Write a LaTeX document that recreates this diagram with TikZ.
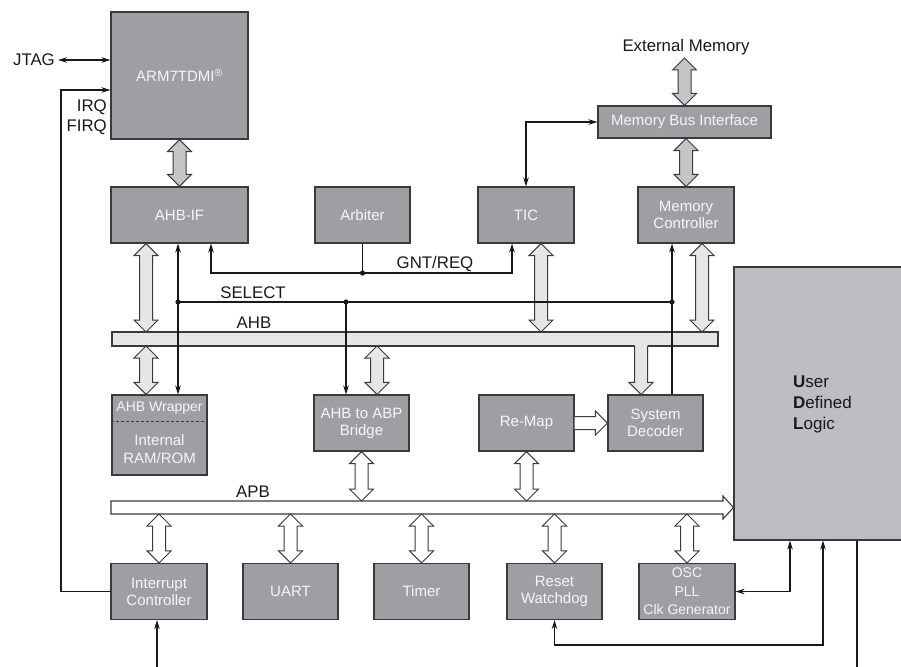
\documentclass[tikz,border=0pt]{standalone}
\usepackage{fontspec}
\setmainfont{Liberation Sans}
\usetikzlibrary{arrows.meta,calc}
\definecolor{boxfill}{HTML}{9E9FA3}
\definecolor{udlfill}{HTML}{BDBEC1}
\definecolor{midfill}{HTML}{C4C5C7}
\definecolor{lightfill}{HTML}{E5E6E8}
\definecolor{edge}{HTML}{3A3A3A}
\definecolor{boxtext}{HTML}{F6F6F6}

% vertical double-headed block arrow: style, x-reference, top point, bottom point
\newcommand\thickdbl[4]{%
  \filldraw[#1] (#2 |- #3) -- ++(12,12) -- ++(-5.5,0) -- ($(#2 |- #4)+(6.5,-12)$) -- ++(5.5,0)
    -- (#2 |- #4) -- ++(-12,-12) -- ++(5.5,0) -- ($(#2 |- #3)+(-6.5,12)$) -- ++(-5.5,0) -- cycle;}

\tikzset{
  blk/.style={draw=edge, line width=1.1pt, fill=boxfill, text=boxtext,
    font=\fontsize{15}{17}\selectfont, align=center, inner sep=0pt,
    minimum width=95, minimum height=56},
  wtxt/.style={text=boxtext, align=center, inner sep=0pt, font=\fontsize{14.5}{18}\selectfont},
  lbl/.style={font=\fontsize{16.8}{20}\selectfont, text=black!90, inner sep=0pt},
  sig/.style={line width=1.25pt, draw=black!90},
  midarr/.style={fill=midfill, draw=edge, line width=1pt, line join=miter},
  lightarr/.style={fill=lightfill, draw=edge, line width=1pt, line join=miter},
  whitearr/.style={fill=white, draw=edge, line width=1pt, line join=miter},
  dotm/.style={fill=black!90},
}

\begin{document}
\begin{tikzpicture}[x=1pt, y=-1pt, >={Stealth[length=9pt,width=5.5pt]}]
\useasboundingbox (0,0) rectangle (901,666);

% ---------- boxes ----------
\node[blk, minimum width=137, minimum height=127] (arm) at (179.5,75.5) {ARM7TDMI\textsuperscript{®}};
\node[blk, minimum width=137] (ahbif) at (179.5,215) {AHB-IF};
\node[blk] (arbiter) at (362.5,215) {Arbiter};
\node[blk, minimum width=96] (tic) at (526,215) {TIC};
\node[blk, minimum width=96] (mc) at (686,215) {Memory\\Controller};
\node[blk, minimum width=173, minimum height=32] (mbi) at (684.5,122) {Memory Bus Interface};

\node[blk, minimum height=80] (wrap) at (159.5,435) {};
\node[wtxt, font=\fontsize{14}{18}\selectfont] (wraptop) at (159.5,408.5) {AHB Wrapper};
\node[wtxt, font=\fontsize{15}{18}\selectfont] (wrapbot) at (159.5,449) {Internal\\RAM/ROM};
\draw[draw=edge, line width=0.9pt, dash pattern=on 3pt off 2pt]
  ($(wrap.north west)+(0,27)$) -- ($(wrap.north east)+(0,27)$);

\node[blk] (bridge) at (361.5,423) {AHB to ABP\\Bridge};
\node[blk] (remap) at (526.5,423) {Re-Map};
\node[blk] (sysdec) at (655.5,423) {System\\Decoder};

\node[draw=edge, line width=1.1pt, fill=udlfill, minimum width=180, minimum height=273, inner sep=0pt] (udl) at (824,403.5) {};
\node[anchor=west, align=left, inner sep=0pt, text=black!90, font=\fontsize{17}{21}\selectfont] (udltxt) at (793,404)
  {\textbf{U}ser\\\textbf{D}efined\\\textbf{L}ogic};

\node[blk, minimum width=96] (intc) at (159,591.5) {Interrupt\\Controller};
\node[blk] (uart) at (290.5,591.5) {UART};
\node[blk] (timer) at (421.5,591.5) {Timer};
\node[blk] (reset) at (554.5,591.5) {Reset\\Watchdog};
\node[blk, minimum width=96, font=\fontsize{14}{18.5}\selectfont] (osc) at (687,591.5) {OSC\\PLL\\Clk Generator};

% ---------- labels ----------
\node[lbl, anchor=east] (jtag) at (55,60) {JTAG};
\node[lbl] (extmem) at (686,47) {External Memory};
\node[lbl, anchor=east] (irq) at (107,107) {IRQ};
\node[lbl, anchor=east] (firq) at (107,127) {FIRQ};
\node[lbl] (gntlbl) at (435,264) {GNT/REQ};
\node[lbl] (sellbl) at (253,293) {SELECT};
\node[lbl] (ahblbl) at (254,323) {AHB};
\node[lbl] (apblbl) at (253,492) {APB};

% ---------- helper coordinates ----------
\coordinate (emtop) at (685,58);
\coordinate (xa) at (146,0);
\coordinate (xs1) at (178,0);
\coordinate (xg1) at (211,0);
\coordinate (xs2) at (346,0);
\coordinate (xbr) at (377,0);
\coordinate (xg2) at (512,0);
\coordinate (xtic) at (541,0);
\coordinate (xsd) at (641,0);
\coordinate (xmcl) at (672,0);
\coordinate (xmc) at (702,0);
\coordinate (xirq) at (61,0);
\coordinate (yirq) at (0,90);
\coordinate (ygnt) at (0,273);
\coordinate (ysel) at (0,302);
\coordinate (xosc) at (790,0);
\coordinate (xrst) at (823,0);
\coordinate (yrst) at (0,645);
\coordinate (xout) at (857,0);
\coordinate (ybot) at (0,667);

% ---------- buses ----------
\node[draw=edge, line width=1.1pt, fill=lightfill, minimum width=606, minimum height=14, inner sep=0pt, outer sep=0pt] (ahb) at (415,339) {};
\node[minimum width=612, minimum height=13, inner sep=0pt, outer sep=0pt] (apb) at (417,507.5) {};
\filldraw[whitearr, line width=1.1pt] (apb.north west) -- (apb.north east) -- ++(0,-5) -- (udl.west |- apb)
  -- ($(apb.south east)+(0,5)$) -- (apb.south east) -- (apb.south west) -- cycle;

% ---------- block arrows ----------
\thickdbl{midarr}{arm}{arm.south}{ahbif.north}
\thickdbl{midarr}{mbi}{emtop}{mbi.north}
\thickdbl{midarr}{mc}{mbi.south}{mc.north}

\thickdbl{lightarr}{xa}{ahbif.south}{ahb.north}
\thickdbl{lightarr}{xtic}{tic.south}{ahb.north}
\thickdbl{lightarr}{xmc}{mc.south}{ahb.north}
\thickdbl{lightarr}{xa}{ahb.south}{wrap.north}
\thickdbl{lightarr}{xbr}{ahb.south}{bridge.north}

% single arrow from AHB bus into System Decoder
\fill[lightfill] ($(xsd |- ahb.south)+(-6.5,-1.2)$) -- ($(xsd |- ahb.south)+(6.5,-1.2)$)
  -- ($(xsd |- sysdec.north)+(6.5,-12)$) -- ++(5.5,0) -- (xsd |- sysdec.north) -- ++(-12,-12) -- ++(5.5,0) -- cycle;
\draw[draw=edge, line width=1pt, line join=miter] ($(xsd |- ahb.south)+(6.5,0)$)
  -- ($(xsd |- sysdec.north)+(6.5,-12)$) -- ++(5.5,0) -- (xsd |- sysdec.north) -- ++(-12,-12) -- ++(5.5,0)
  -- ($(xsd |- ahb.south)+(-6.5,0)$);

% Re-Map to System Decoder
\filldraw[whitearr] ($(remap.east)+(0,-6.5)$) -- ($(sysdec.west)+(-12,-6.5)$) -- ++(0,-5.5) -- (sysdec.west)
  -- ++(-12,12) -- ++(0,-5.5) -- ($(remap.east)+(0,6.5)$);

\thickdbl{whitearr}{bridge}{bridge.south}{apb.north}
\thickdbl{whitearr}{remap}{remap.south}{apb.north}
\thickdbl{whitearr}{intc}{apb.south}{intc.north}
\thickdbl{whitearr}{uart}{apb.south}{uart.north}
\thickdbl{whitearr}{timer}{apb.south}{timer.north}
\thickdbl{whitearr}{reset}{apb.south}{reset.north}
\thickdbl{whitearr}{osc}{apb.south}{osc.north}

% ---------- signal lines ----------
\draw[sig,<->] ([xshift=3]jtag.east) -- (arm.west |- jtag);
\draw[sig,->] (intc.west) -| (xirq |- yirq) -- (arm.west |- yirq);
\draw[sig,<->] (tic.north) |- (mbi.west);

\draw[sig] (arbiter.south) -- (arbiter.south |- ygnt);
\draw[sig,<->] (xg1 |- ahbif.south) -- (xg1 |- ygnt) -- (xg2 |- ygnt) -- (xg2 |- tic.south);
\fill[dotm] (arbiter.south |- ygnt) circle (2.6);

\draw[sig] (xs1 |- ysel) -- (xmcl |- ysel);
\draw[sig,<->] (xs1 |- ahbif.south) -- (xs1 |- wrap.north);
\draw[sig,->] (xs2 |- ysel) -- (xs2 |- bridge.north);
\draw[sig,<-] (xmcl |- mc.south) -- (xmcl |- sysdec.north);
\fill[dotm] (xs1 |- ysel) circle (2.6);
\fill[dotm] (xs2 |- ysel) circle (2.6);
\fill[dotm] (xmcl |- ysel) circle (2.6);

\draw[sig,->] ([xshift=-2]intc.south |- ybot) -- ([xshift=-2]intc.south);
\draw[sig,<->] (osc.east) -| (xosc |- udl.south);
\draw[sig,<->] (reset.south) |- (xrst |- yrst) -- (xrst |- udl.south);
\draw[sig] (xout |- udl.south) -- (xout |- ybot);
\end{tikzpicture}
\end{document}
